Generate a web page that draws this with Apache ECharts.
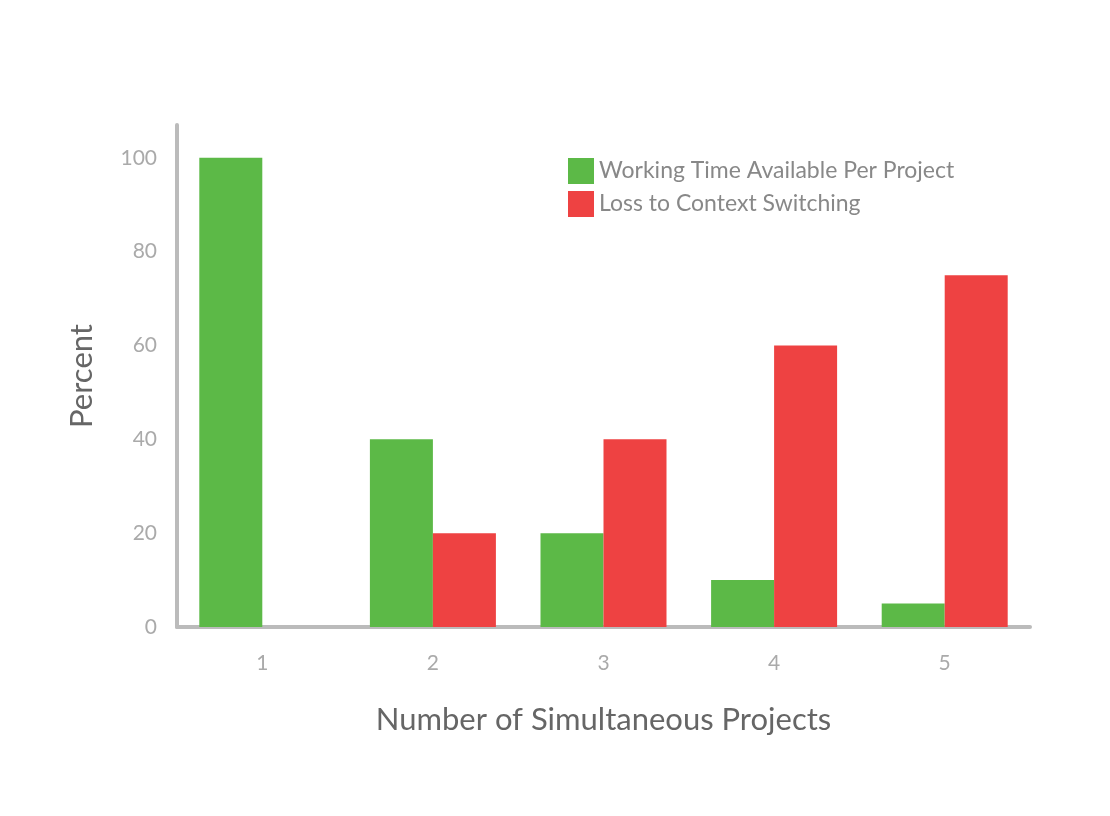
<!DOCTYPE html>
<html>
<head>
<meta charset="utf-8">
<script src="https://cdn.jsdelivr.net/npm/echarts@6/dist/echarts.min.js"></script>
<style>html,body{margin:0;background:#fff}#c{width:1110px;height:816px}</style>
</head>
<body>
<div id="c"></div>
<script>
const categories = ['1', '2', '3', '4', '5']
const workingTime = [100, 40, 20, 10, 5]
const contextLoss = [0, 20, 40, 60, 75]

const font = 'Lato'
const myChart = echarts.init(document.getElementById('c'))

myChart.setOption({
  animation: false,
  textStyle: { fontFamily: font },
  legend: {
    left: 563,
    top: 153,
    orient: 'vertical',
    itemWidth: 26,
    itemHeight: 26,
    itemGap: 7,
    icon: 'rect',
    textStyle: { color: '#888', fontSize: 23, fontFamily: font },
  },
  grid: { left: 177, right: 80, top: 125, bottom: 189 },
  xAxis: {
    type: 'category',
    data: categories,
    name: 'Number of Simultaneous Projects',
    nameLocation: 'middle',
    nameGap: 77,
    nameTextStyle: { color: '#666', fontSize: 31, fontFamily: font },
    axisLine: { lineStyle: { color: '#bbb', width: 4 } },
    axisTick: { show: false },
    axisLabel: { color: '#aaa', fontSize: 21, margin: 26 },
  },
  yAxis: {
    type: 'value',
    min: 0,
    max: 107,
    interval: 20,
    name: 'Percent',
    nameLocation: 'middle',
    nameGap: 80,
    nameTextStyle: { color: '#666', fontSize: 31, fontFamily: font },
    axisLine: { show: true, lineStyle: { color: '#bbb', width: 4 } },
    axisTick: { show: false },
    splitLine: { show: false },
    axisLabel: {
      color: '#aaa',
      fontSize: 21,
      margin: 20,
      formatter: (v) => (v % 20 === 0 ? v : ''),
    },
  },
  series: [
    {
      name: 'Working Time Available Per Project',
      type: 'bar',
      data: workingTime,
      barWidth: 63,
      barGap: '0%',
      itemStyle: { color: '#5cb947' },
    },
    {
      name: 'Loss to Context Switching',
      type: 'bar',
      data: contextLoss,
      barWidth: 63,
      itemStyle: { color: '#ee4242' },
    },
  ],
})
</script>
</body>
</html>
